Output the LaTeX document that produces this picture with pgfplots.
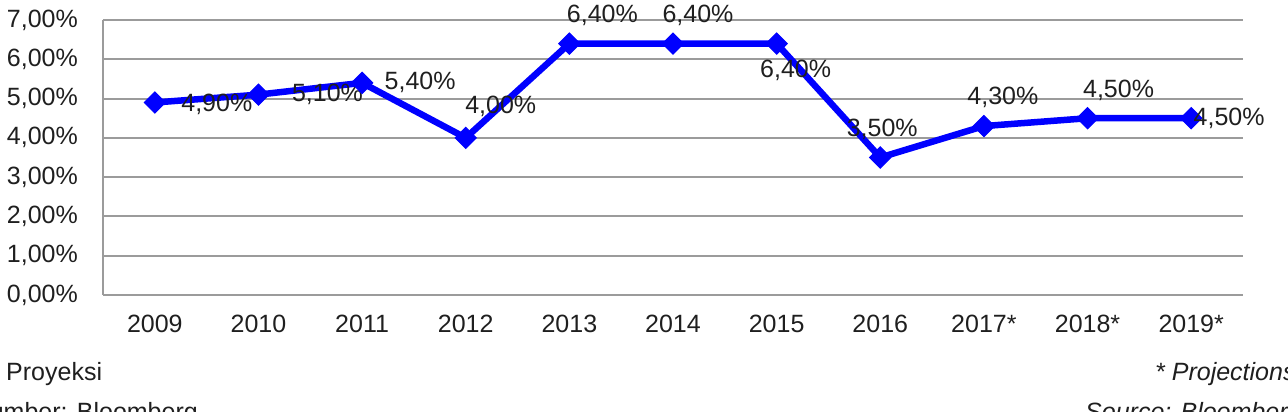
\documentclass[border=0pt]{standalone}
\usepackage{fontspec}
\setmainfont{Liberation Sans}
\usepackage{pgfplots}
\usepackage{pgfplotstable}
\pgfplotsset{compat=1.18}
\definecolor{gridgray}{RGB}{155,155,155}
\definecolor{lineblue}{RGB}{0,0,255}
\newcommand\fs{\fontsize{25}{29}\selectfont}
\pgfplotstableread{
x y dx dy
0 4.9 62 -2
1 5.1 69 0
2 5.4 58 0
3 4.0 35 31
4 6.4 33 28
5 6.4 25 28
6 6.4 19 -27
7 3.5 2 28
8 4.3 19 29
9 4.5 31 28
10 4.5 38 0
}\datatable
\begin{document}
\begin{tikzpicture}
\useasboundingbox (0,0) rectangle (1288pt,412pt);
\clip (0,0) rectangle (1288pt,412pt);
\begin{axis}[
  at={(103pt,117pt)}, anchor=south west,
  scale only axis, width=1140pt, height=275pt,
  xmin=-0.5, xmax=10.5, ymin=0, ymax=7,
  axis x line=bottom, axis y line=left,
  axis line style={-, draw=gridgray, line width=2pt},
  ymajorgrids, grid style={draw=gridgray, line width=2pt},
  major tick length=0pt,
  xtick={0,...,10},
  xticklabels={2009,2010,2011,2012,2013,2014,2015,2016,2017*,2018*,2019*},
  ytick={0,...,7},
  yticklabels={{0,00\%},{1,00\%},{2,00\%},{3,00\%},{4,00\%},{5,00\%},{6,00\%},{7,00\%}},
  /pgf/number format/assume math mode=true,
  tick label style={font=\fs, text=black!88},
  yticklabel style={anchor=east, inner sep=0pt, xshift=-25pt},
  xticklabel style={anchor=north, inner sep=0pt, yshift=-20pt},
  clip=false,
]
\addplot[draw=lineblue, line width=6.5pt, mark=square*, mark size=7.5pt,
  mark options={solid, fill=lineblue, draw=lineblue, line width=1pt, rotate=45},
  point meta=y,
  visualization depends on={\thisrow{dx}\as\dx},
  visualization depends on={\thisrow{dy}\as\dy},
  nodes near coords={\pgfmathprintnumber[fixed,fixed zerofill,precision=2,use comma]{\pgfplotspointmeta}\%},
  every node near coord/.append style={font=\fs, text=black!88, anchor=center, inner sep=0pt, xshift=\dx pt, yshift=\dy pt},
] table[x=x, y=y] {\datatable};
\end{axis}
\node[anchor=base west, inner sep=0pt, font=\fs, text=black!88] at (6pt,31pt) {Proyeksi};
\node[anchor=base east, inner sep=0pt, font=\fs, text=black!88] at (198pt,-9pt) {Sumber: Bloomberg};
\node[anchor=base west, inner sep=0pt, font=\fs\itshape, text=black!88] at (1155pt,31pt) {* Projections};
\node[anchor=base west, inner sep=0pt, font=\fs\itshape, text=black!88] at (1085pt,-9pt) {Source: Bloomberg};
\end{tikzpicture}
\end{document}
